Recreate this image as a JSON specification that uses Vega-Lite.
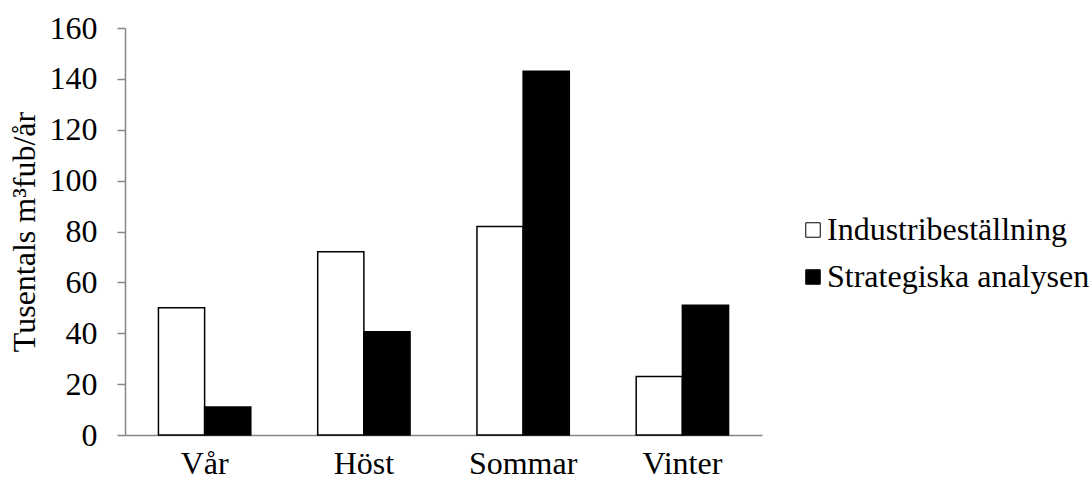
{
  "$schema": "https://vega.github.io/schema/vega-lite/v6.json",
  "autosize": "none",
  "width": 637,
  "height": 407,
  "padding": {"left": 125, "top": 28, "right": 329, "bottom": 51},
  "background": "white",
  "config": {
    "view": {"stroke": null},
    "font": "Liberation Serif",
    "legend": {"labelFont": "Liberation Serif"},
    "axis": {"grid": false, "domainColor": "#868686", "tickColor": "#868686", "labelColor": "black", "titleColor": "black", "labelFont": "Liberation Serif", "titleFont": "Liberation Serif", "labelFontSize": 32, "titleFontSize": 32, "titleFontWeight": "normal"}
  },
  "data": {
    "values": [
      {"season": "Vår", "serie": "Industribeställning", "value": 50},
      {"season": "Vår", "serie": "Strategiska analysen", "value": 11},
      {"season": "Höst", "serie": "Industribeställning", "value": 72},
      {"season": "Höst", "serie": "Strategiska analysen", "value": 40.6},
      {"season": "Sommar", "serie": "Industribeställning", "value": 82},
      {"season": "Sommar", "serie": "Strategiska analysen", "value": 143},
      {"season": "Vinter", "serie": "Industribeställning", "value": 23},
      {"season": "Vinter", "serie": "Strategiska analysen", "value": 51}
    ]
  },
  "mark": {"type": "bar", "stroke": "black", "strokeWidth": 1.5},
  "encoding": {
    "x": {
      "field": "season", "type": "nominal", "sort": ["Vår", "Höst", "Sommar", "Vinter"],
      "scale": {"paddingInner": 0.42, "paddingOuter": 0.21},
      "axis": {"title": null, "labelAngle": 0, "ticks": false, "labelPadding": 13, "domainWidth": 1.5}
    },
    "xOffset": {"field": "serie", "type": "nominal", "sort": ["Industribeställning", "Strategiska analysen"], "scale": {"paddingInner": 0, "paddingOuter": 0}},
    "y": {
      "field": "value", "type": "quantitative",
      "scale": {"domain": [0, 160], "nice": false},
      "axis": {"title": "Tusentals m³fub/år", "values": [0, 20, 40, 60, 80, 100, 120, 140, 160], "tickSize": 8, "labelPadding": 20, "titlePadding": 8, "domainWidth": 1.5, "tickWidth": 1.5}
    },
    "fill": {
      "field": "serie", "type": "nominal", "sort": ["Industribeställning", "Strategiska analysen"],
      "scale": {"range": ["white", "black"]},
      "legend": {
        "title": null, "orient": "none", "legendX": 672, "legendY": 186,
        "symbolType": "square", "symbolSize": 210, "symbolStrokeColor": "black", "symbolStrokeWidth": 1,
        "labelFontSize": 32, "labelFont": "Liberation Serif", "labelColor": "black", "labelOffset": -2, "rowPadding": 15, "labelLimit": 400
      }
    }
  }
}
